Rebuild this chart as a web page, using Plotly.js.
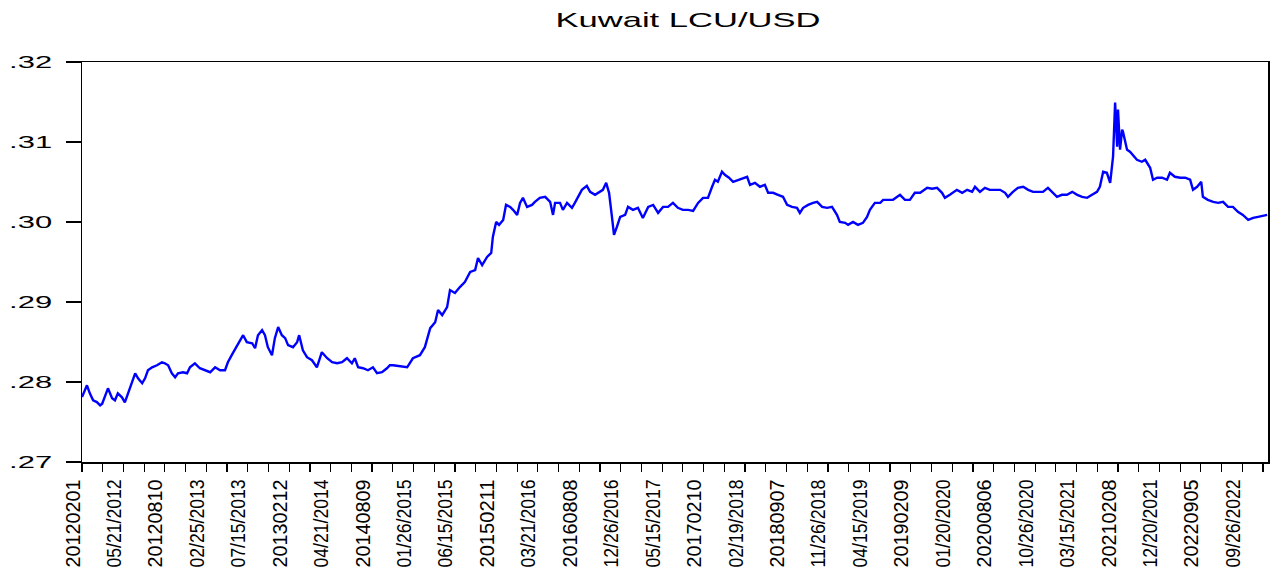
<!DOCTYPE html>
<html>
<head>
<meta charset="utf-8">
<script src="https://cdn.plot.ly/plotly-3.0.1.min.js"></script>
<style>
  html, body { margin: 0; padding: 0; background: #fff; }
  #chart { width: 1270px; height: 571px; }
</style>
</head>
<body>
<div id="chart"></div>
<script>
// Observation index (business-day count from 2012-02-01)
const obs = [0,12,19,27,36,44,49,56,63,73,80,87,97,104,112,121,129,136,146,153,160,170,182,194,201,209,218,226,233,245,255,262,274,286,298,311,323,335,347,354,366,379,391,400,413,420,427,437,444,451,461,468,476,485,493,500,512,522,527,536,546,558,570,582,595,607,619,631,643,655,662,670,682,694,706,716,728,740,747,
755,772,789,803,820,832,845,857,864,874,886,893,905,917,929,942,954,961,971,983,993,997,1005,1012,1022,1029,1039,1046,1056,1063,1070,1080,1092,1099,1111,1124,1136,1143,1148,1160,1167,1177,1189,1196,1204,1213,1225,1233,1245,1257,1264,1272,1279,1286,1291,1298,1306,1318,1325,1337,1349,1361,1374,1386,1398,1410,1422,1434,
1446,1458,1471,1483,1495,1507,1519,1529,1536,1543,1553,1560,1570,1580,1592,1604,1614,1621,1633,1645,1657,1665,1677,1689,1701,1711,1723,1735,1742,1750,1762,1774,1784,1796,1808,1820,1832,1839,1852,1859,1871,1883,1895,1905,1912,1924,1937,1944,1956,1968,1985,1997,2009,2021,2034,2051,2063,2075,2087,2094,2106,2123,2136,2148,2160,
2167,2179,2191,2203,2216,2228,2240,2247,2259,2271,2284,2296,2308,2320,2332,2344,2356,2366,2378,2390,2403,2415,2427,2439,2451,2463,2470,2478,2487,2495,2502,2504,2507,2512,2514,2519,2524,2526,2536,2543,2550,2560,2572,2580,2592,2599,2609,2621,2633,2640,2652,2665,2677,2689,2696,2706,2716,2720,2732,2745,2757,2769,2781,2793,2805,2817,2830,2842,2854,2866,2876];

// Kuwait LCU per USD
const rate = [0.27812,0.27959,0.27858,0.27771,0.27749,0.27708,0.27729,0.27833,0.27921,0.27796,0.27771,0.27858,0.27808,0.27746,0.27871,0.27984,0.28109,0.28046,0.27984,0.28046,0.28147,0.28184,0.28209,0.28247,0.28234,0.28209,0.28109,0.28059,0.28109,0.28122,0.28109,0.28184,0.28234,0.28172,0.28147,0.28122,0.28184,0.28147,0.28147,0.28247,0.28360,0.28485,0.28585,0.28498,0.28485,0.28422,0.28585,0.28648,0.28585,0.28435,0.28335,0.28548,0.28686,0.28585,0.28548,0.28460,0.28435,0.28498,0.28585,0.28397,0.28310,0.28272,0.28184,0.28372,0.28297,0.28247,0.28234,0.28247,0.28297,0.28234,0.28297,0.28184,0.28172,0.28147,0.28184,0.28109,0.28122,0.28172,0.28209,
0.28209,0.28197,0.28184,0.28297,0.28335,0.28435,0.28673,0.28748,0.28899,0.28836,0.28936,0.29149,0.29112,0.29187,0.29249,0.29375,0.29400,0.29550,0.29462,0.29563,0.29613,0.29813,0.30001,0.29964,0.30026,0.30214,0.30189,0.30152,0.30089,0.30239,0.30302,0.30189,0.30214,0.30252,0.30302,0.30315,0.30252,0.30089,0.30239,0.30239,0.30152,0.30239,0.30177,0.30239,0.30315,0.30402,0.30452,0.30377,0.30340,0.30377,0.30402,0.30490,0.30365,0.30064,0.29838,0.29939,0.30064,0.30089,0.30189,0.30152,0.30177,0.30051,0.30189,0.30214,0.30114,0.30189,0.30189,0.30239,
0.30177,0.30152,0.30152,0.30139,0.30239,0.30302,0.30302,0.30440,0.30528,0.30503,0.30628,0.30590,0.30553,0.30503,0.30528,0.30553,0.30565,0.30465,0.30490,0.30440,0.30465,0.30365,0.30365,0.30340,0.30315,0.30214,0.30189,0.30177,0.30114,0.30177,0.30214,0.30239,0.30252,0.30189,0.30177,0.30189,0.30089,0.30001,0.29989,0.29964,0.30001,0.29964,0.29989,0.30064,0.30152,0.30239,0.30239,0.30277,0.30277,0.30277,0.30340,0.30277,0.30277,0.30365,0.30365,0.30427,0.30415,0.30427,0.30365,0.30302,0.30340,0.30402,0.30365,0.30402,0.30377,
0.30440,0.30377,0.30427,0.30402,0.30402,0.30402,0.30365,0.30315,0.30377,0.30427,0.30440,0.30402,0.30377,0.30377,0.30377,0.30427,0.30365,0.30315,0.30340,0.30340,0.30377,0.30340,0.30315,0.30302,0.30340,0.30377,0.30440,0.30628,0.30615,0.30490,0.30816,0.31117,0.31492,0.30941,0.31405,0.30904,0.31154,0.31129,0.30904,0.30878,0.30841,0.30778,0.30753,0.30778,0.30678,0.30528,0.30553,0.30553,0.30528,0.30615,0.30565,0.30553,0.30553,0.30528,0.30402,0.30440,0.30503,0.30315,0.30277,0.30252,0.30239,0.30252,0.30189,0.30189,0.30127,0.30089,0.30026,0.30051,0.30064,0.30076,0.30089];

// Tick labels along the x axis (as printed in the original)
const xLabels = ["20120201","05/21/2012","20120810","02/25/2013","07/15/2013","20130212","04/21/2014","20140809","01/26/2015","06/15/2015","20150211","03/21/2016","20160808","12/26/2016","05/15/2017","20170210","02/19/2018","20180907","11/26/2018","04/15/2019","20190209","01/20/2020","20200806","10/26/2020","03/15/2021","20210208","12/20/2021","20220905","09/26/2022"];

const yTickVals = [0.27, 0.28, 0.29, 0.30, 0.31, 0.32];
const yTickText = [".27", ".28", ".29", ".30", ".31", ".32"];

const chartTitle = "Kuwait LCU/USD";

// layout constants
const X_MAX = 2878;
const TICK_STEP = 50.28;        // one (minor) tick; labels every second tick
const nTicks = xLabels.length * 2;
const tickVals = [], tickText = [];
for (let i = 0; i < nTicks; i++) {
  tickVals.push(i * TICK_STEP);
  tickText.push(i % 2 === 0 ? xLabels[i / 2] : "");
}

const FONT = "Liberation Sans, Arial, sans-serif";

const trace = {
  x: obs, y: rate, type: "scatter", mode: "lines",
  line: { color: "#0000FF", width: 2.4 },
  hoverinfo: "skip"
};

const layout = {
  width: 1270, height: 571,
  margin: { l: 82, r: 2, t: 62, b: 109, pad: 0 },
  paper_bgcolor: "#fff", plot_bgcolor: "#fff",
  showlegend: false,
  title: {
    text: chartTitle,
    font: { family: FONT, size: 21, color: "#000" },
    xref: "container", x: 0.5417, xanchor: "center",
    yref: "container", y: 0.966, yanchor: "middle"
  },
  xaxis: {
    range: [0, X_MAX], showgrid: false, zeroline: false,
    showline: true, linecolor: "#000", linewidth: 1.5, mirror: true,
    ticks: "outside", ticklen: 8, tickwidth: 1.2, tickcolor: "#000",
    tickmode: "array", tickvals: tickVals, ticktext: tickText,
    tickangle: -90, ticklabelshift: -9, ticklabelstandoff: 0,
    tickfont: { family: FONT, size: 20, color: "#000" }
  },
  yaxis: {
    range: [0.27, 0.32], showgrid: false, zeroline: false,
    showline: true, linecolor: "#000", linewidth: 1.5, mirror: true,
    ticks: "outside", ticklen: 15, tickwidth: 1.2, tickcolor: "#000",
    tickmode: "array", tickvals: yTickVals, ticktext: yTickText,
    ticklabelstandoff: 10,
    tickfont: { family: FONT, size: 17, color: "#000" }
  }
};

function stretchText() {
  const set = (el, len) => {
    if (!el.textContent) return;
    el.setAttribute("textLength", len);
    el.setAttribute("lengthAdjust", "spacingAndGlyphs");
  };
  document.querySelectorAll(".xtick text").forEach(t => set(t, 88));
  document.querySelectorAll(".ytick text").forEach(t => set(t, 43));
  document.querySelectorAll(".gtitle").forEach(t => set(t, 265));
}

const gd = document.getElementById("chart");
Plotly.newPlot(gd, [trace], layout, { staticPlot: true, displayModeBar: false }).then(() => {
  stretchText();
  gd.on && gd.on("plotly_afterplot", stretchText);
});
</script>
</body>
</html>
